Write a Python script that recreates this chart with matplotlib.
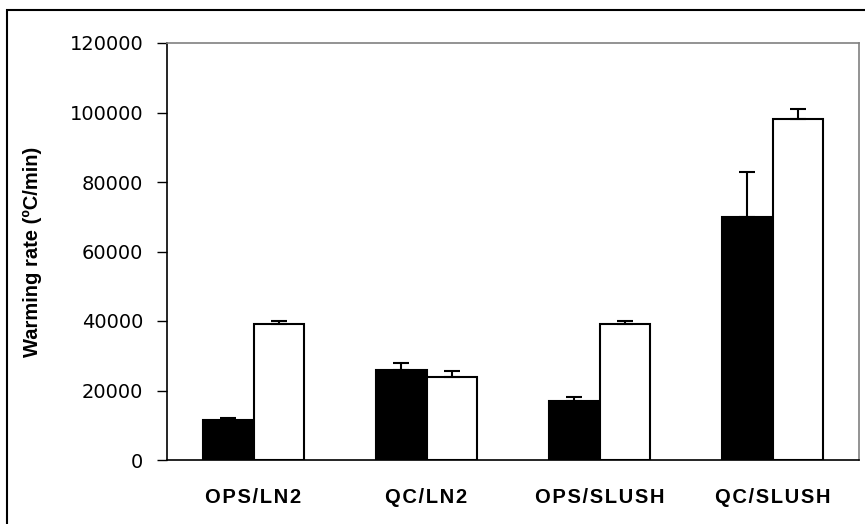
import numpy as np
import matplotlib
matplotlib.use("Agg")
import matplotlib.pyplot as plt
from matplotlib.patches import Rectangle

categories = ["OPS/LN2", "QC/LN2", "OPS/SLUSH", "QC/SLUSH"]
black_vals = [11500, 26000, 17000, 70000]
black_err = [500, 2000, 1000, 13000]
white_vals = [39000, 24000, 39000, 98000]
white_err = [1000, 1500, 1000, 3000]
yticks = [0, 20000, 40000, 60000, 80000, 100000, 120000]

fig = plt.figure(figsize=(8.65, 5.24), dpi=100)
W, H = 865, 524
ax = fig.add_axes([167 / W, 1 - 460 / H, (859 - 167) / W, (460 - 43) / H])

x = np.arange(len(categories))
bw = 0.29
err_kw = dict(ecolor="black", elinewidth=1.5, capsize=6, capthick=1.5)
ax.bar(x - bw / 2, black_vals, bw, color="black", edgecolor="black", lw=1.5,
       yerr=[np.zeros(4), black_err], error_kw=err_kw, zorder=2)
ax.bar(x + bw / 2, white_vals, bw, color="white", edgecolor="black", lw=1.5,
       yerr=[np.zeros(4), white_err], error_kw=err_kw, zorder=2)

ax.set_xlim(-0.5, 3.5)
ax.set_ylim(0, 120000)
ax.set_yticks(yticks)
ax.set_yticklabels([str(v) for v in yticks], fontsize=14, family="DejaVu Sans")

# spaced bold category labels
ax.set_xticks(x)
ax.set_xticklabels(["\u200a".join(c) for c in categories], fontsize=14.5,
                   fontweight="bold", family=["Liberation Sans", "DejaVu Sans"])
ax.tick_params(axis="x", length=0, pad=20)
ax.tick_params(axis="y", length=7, width=1, pad=10, direction="out")

ax.set_ylabel("Warming rate (ºC/min)", fontsize=14.5, fontweight="bold",
              family="Liberation Sans")
ax.yaxis.set_label_coords(-(167 - 42) / (859 - 167), 0.5)

for s in ["left", "bottom"]:
    ax.spines[s].set_color("black")
    ax.spines[s].set_linewidth(1.2)
for s in ["top", "right"]:
    ax.spines[s].set_color("#808080")
    ax.spines[s].set_linewidth(1.2)

# outer frame
fig.patches.append(Rectangle((7 / W, -0.1), 1.2, 1 - 9.5 / H + 0.1,
                             transform=fig.transFigure, fill=False,
                             edgecolor="black", lw=1.5))

fig.savefig("out.png", dpi=100)
